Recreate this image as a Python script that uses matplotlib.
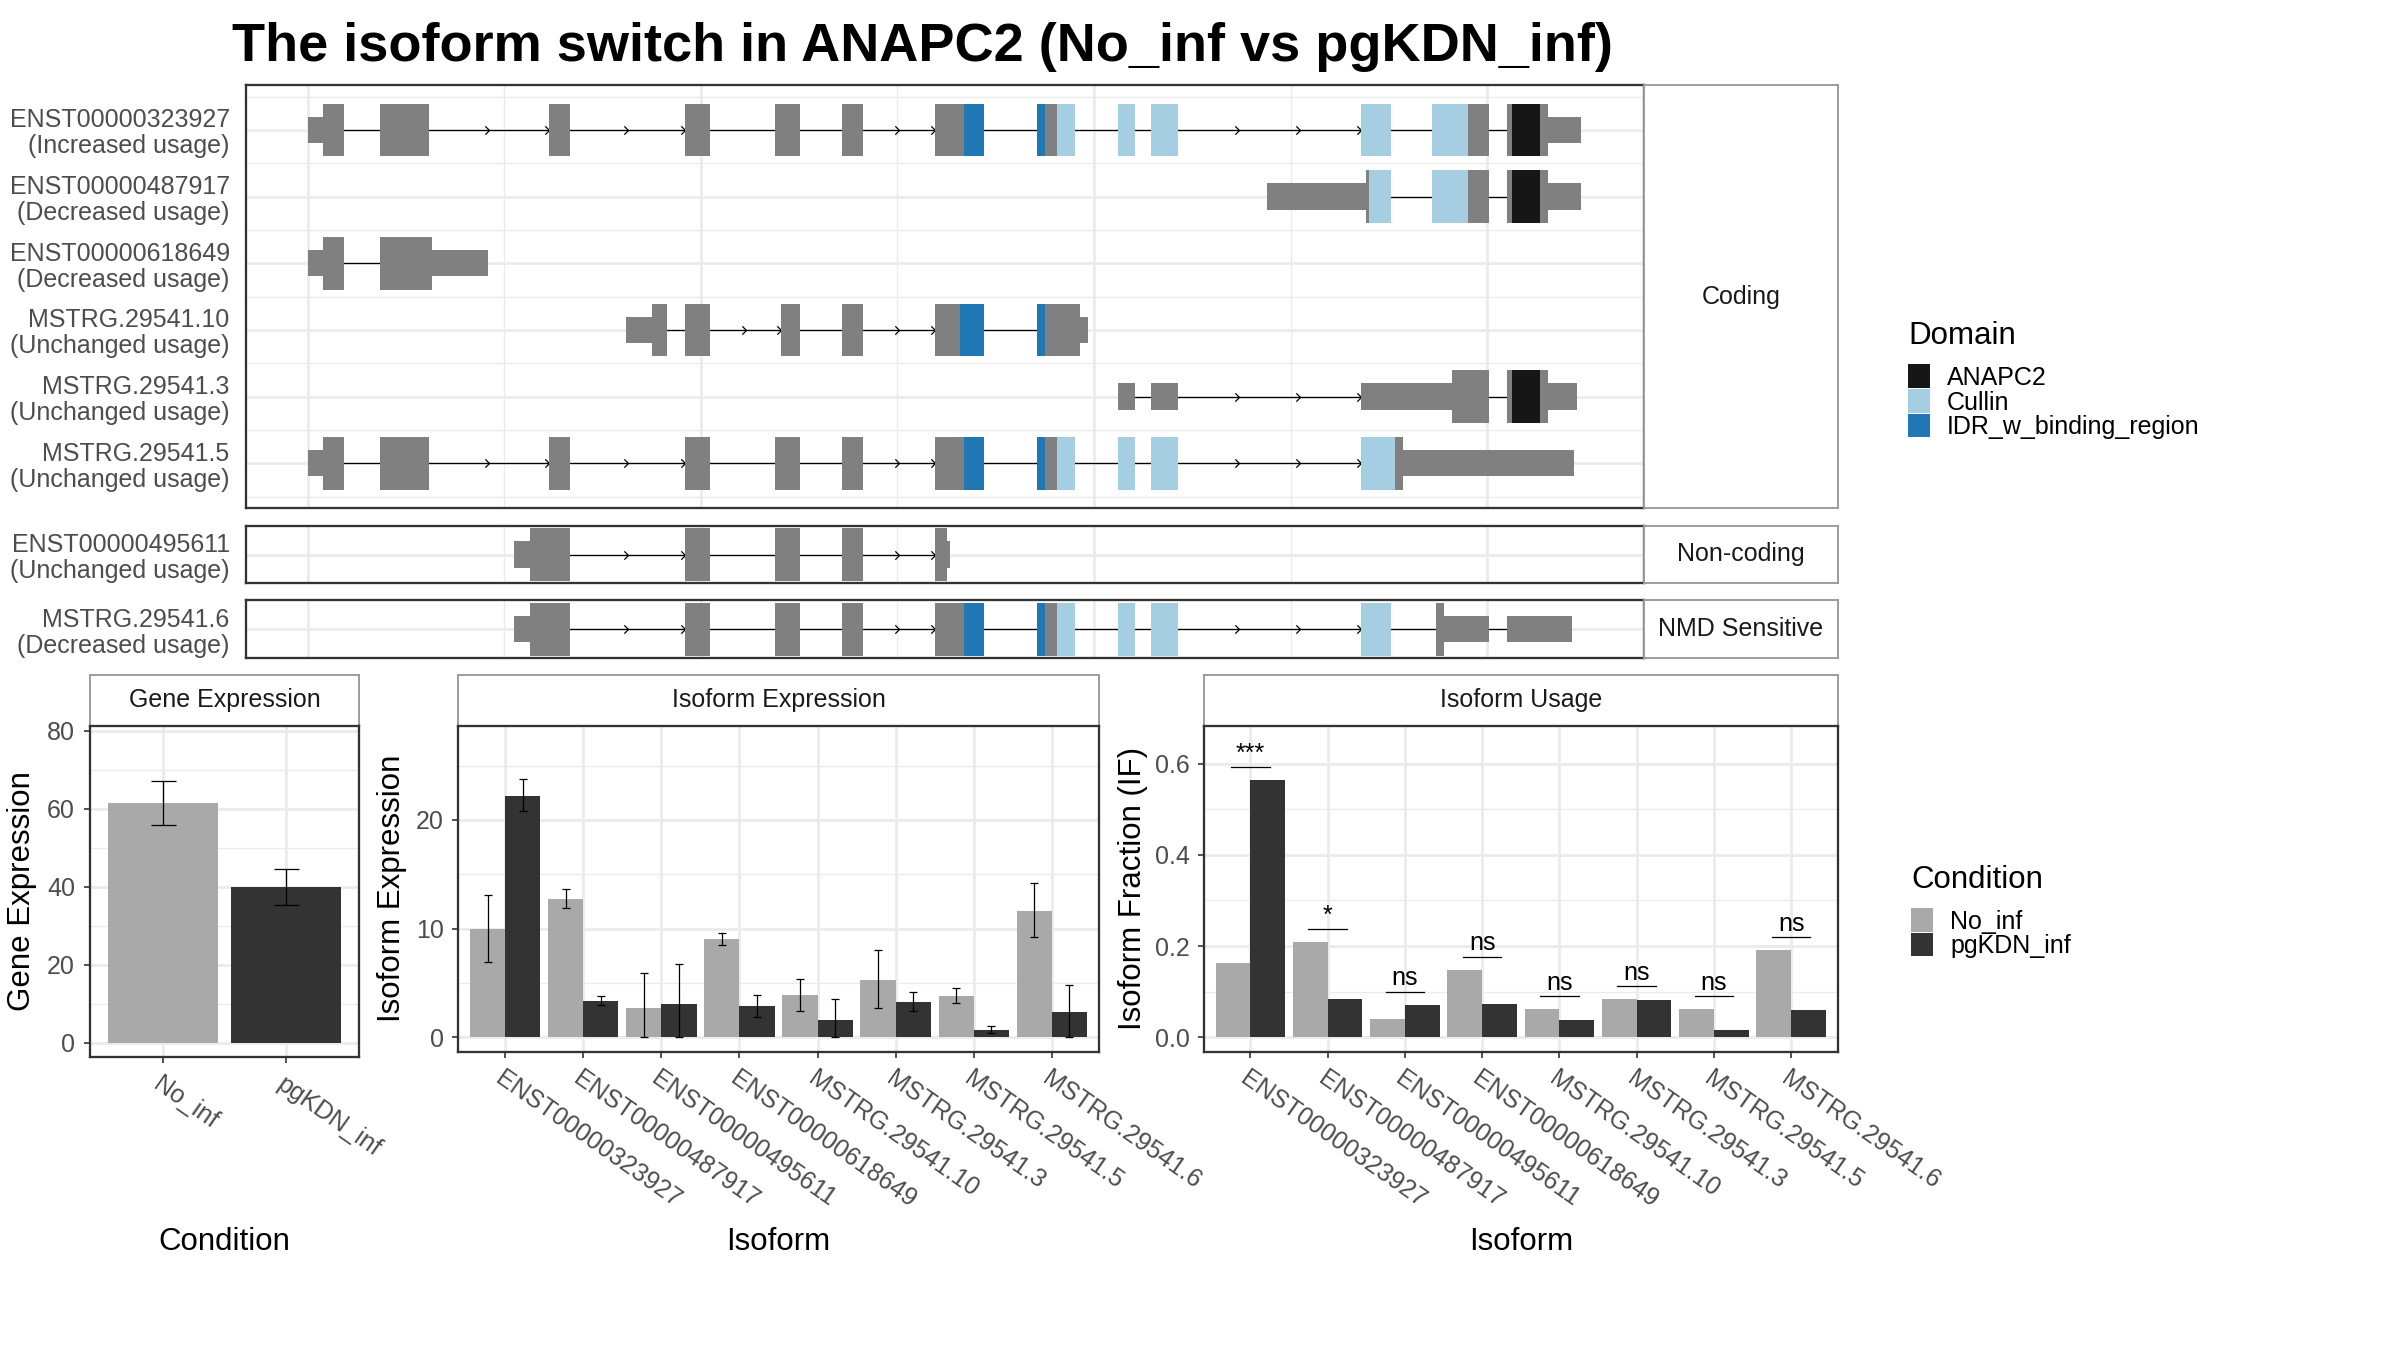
import math
import matplotlib
matplotlib.use('Agg')
import matplotlib.pyplot as plt
from matplotlib.patches import Rectangle
from matplotlib.path import Path

plt.rcParams['font.family'] = ['Liberation Sans', 'DejaVu Sans']

W, H = 2400, 1350

# ---------------- data ----------------
conditions = ['No_inf', 'pgKDN_inf']
cond_colors = ['#a9a9a9', '#333333']

gene_expr = [61.45, 39.96]
gene_lo = [55.8, 35.3]
gene_hi = [67.25, 44.5]

isoforms = ['ENST00000323927', 'ENST00000487917', 'ENST00000495611', 'ENST00000618649',
            'MSTRG.29541.10', 'MSTRG.29541.3', 'MSTRG.29541.5', 'MSTRG.29541.6']
iso_no = [10.0, 12.75, 2.7, 9.06, 3.9, 5.28, 3.81, 11.64]
iso_no_lo = [6.9, 11.92, 0.0, 8.51, 2.43, 2.67, 3.13, 9.22]
iso_no_hi = [13.1, 13.64, 5.9, 9.59, 5.35, 7.99, 4.52, 14.16]
iso_kd = [22.25, 3.35, 3.07, 2.89, 1.6, 3.26, 0.68, 2.33]
iso_kd_lo = [20.8, 2.95, 0.0, 1.9, 0.0, 2.43, 0.37, 0.0]
iso_kd_hi = [23.75, 3.81, 6.73, 3.93, 3.53, 4.21, 1.01, 4.79]

if_no = [0.163, 0.209, 0.040, 0.148, 0.062, 0.084, 0.062, 0.191]
if_kd = [0.564, 0.084, 0.071, 0.073, 0.038, 0.082, 0.016, 0.060]
if_sig = ['***', '*', 'ns', 'ns', 'ns', 'ns', 'ns', 'ns']

domain_names = ['ANAPC2', 'Cullin', 'IDR_w_binding_region']
domain_colors = ['#161616', '#a6cee3', '#1f78b4']

# transcript structures (bp from gene start)
tx_ids = ['ENST00000323927', 'ENST00000487917', 'ENST00000618649', 'MSTRG.29541.10',
          'MSTRG.29541.3', 'MSTRG.29541.5', 'ENST00000495611', 'MSTRG.29541.6']
tx_usage = ['Increased', 'Decreased', 'Decreased', 'Unchanged',
            'Unchanged', 'Unchanged', 'Unchanged', 'Decreased']
tx_class = ['Coding'] * 6 + ['Non-coding', 'NMD Sensitive']
tx_exons = [
    [(10, 468), (926, 1539), (3066, 3338), (4799, 5119), (5946, 6268), (6793, 7066), (7979, 8596),
     (9276, 9763), (10306, 10517), (10728, 11069), (13396, 13778), (14297, 15019), (15254, 16194)],
    [(12196, 13778), (14297, 15019), (15254, 16194)],
    [(10, 468), (926, 2288)],
    [(4049, 4565), (4799, 5119), (6025, 6268), (6793, 7066), (7979, 8596), (9276, 9926)],
    [(10306, 10517), (10728, 11069), (13396, 15019), (15254, 16145)],
    [(10, 468), (926, 1539), (3066, 3338), (4799, 5119), (5946, 6268), (6793, 7066), (7979, 8596),
     (9276, 9763), (10306, 10517), (10728, 11069), (13396, 16106)],
    [(2628, 3338), (4799, 5119), (5946, 6268), (6793, 7066), (7979, 8175)],
    [(2628, 3338), (4799, 5119), (5946, 6268), (6793, 7066), (7979, 8596), (9276, 9763),
     (10306, 10517), (10728, 11069), (13396, 13778), (14352, 15019), (15254, 16082)],
]
tx_cds = [(196, 15773), (13453, 15773), (196, 1587), (4379, 9820),
          (14556, 15773), (196, 13932), (2832, 8136), (2832, 14450)]
tx_domains = [
    [('IDR_w_binding_region', 8344, 9382), ('Cullin', 9528, 14760), ('ANAPC2', 15319, 15675)],
    [('Cullin', 13494, 14760), ('ANAPC2', 15319, 15675)],
    [],
    [('IDR_w_binding_region', 8296, 9382)],
    [('ANAPC2', 15319, 15675)],
    [('IDR_w_binding_region', 8344, 9382), ('Cullin', 9528, 13826)],
    [],
    [('IDR_w_binding_region', 8344, 9382), ('Cullin', 9528, 13778)],
]

# ---------------- helpers ----------------
fig = plt.figure(figsize=(16, 9), dpi=150)
fig.patch.set_facecolor('white')

GRID = '#ebebeb'
TXT = '#4d4d4d'
EXON = '#808080'


def rect(x0, y0, x1, y1):
    return [x0 / W, 1 - y1 / H, (x1 - x0) / W, (y1 - y0) / H]


def frame(ax, color='#333333', lw=1.1):
    for s in ax.spines.values():
        s.set_color(color)
        s.set_linewidth(lw)


def strip(x0, y0, x1, y1, label):
    ax = fig.add_axes(rect(x0, y0, x1, y1))
    ax.set_xticks([])
    ax.set_yticks([])
    frame(ax, '#999999', 0.9)
    ax.text(0.5, 0.5, label, ha='center', va='center', fontsize=12, color='#1a1a1a',
            transform=ax.transAxes)
    return ax


chevron = Path([(-1, 1), (0, 0), (-1, -1)], [Path.MOVETO, Path.LINETO, Path.LINETO])
dom_col = dict(zip(domain_names, domain_colors))


def draw_tx(ax, y, exons, cds, domains):
    tall, half = 0.395, 0.1975
    for (s0, e0), (s1, e1) in zip(exons[:-1], exons[1:]):
        ax.plot([e0, s1], [y, y], color='black', lw=0.6, zorder=2)
        L = s1 - e0
        if L > 860:
            n = math.ceil(L / 788)
            xs = [e0 + L * k / n for k in range(1, n + 1)]
            ax.plot(xs, [y] * n, ls='none', marker=chevron, ms=4, mfc='none', mec='black',
                    mew=0.6, zorder=3)
    for s, e in exons:
        cs, ce = max(s, cds[0]), min(e, cds[1])
        if ce <= cs:
            ax.add_patch(Rectangle((s, y - half), e - s, 2 * half, fc=EXON, lw=0, zorder=4))
            continue
        if s < cs:
            ax.add_patch(Rectangle((s, y - half), cs - s, 2 * half, fc=EXON, lw=0, zorder=4))
        if e > ce:
            ax.add_patch(Rectangle((ce, y - half), e - ce, 2 * half, fc=EXON, lw=0, zorder=4))
        ax.add_patch(Rectangle((cs, y - tall), ce - cs, 2 * tall, fc=EXON, lw=0, zorder=4))
        for name, ds, de in domains:
            a, b = max(cs, ds), min(ce, de)
            if b > a:
                ax.add_patch(Rectangle((a, y - tall), b - a, 2 * tall, fc=dom_col[name],
                                       lw=0, zorder=5))


def model_panel(y0, y1, idx, ylim):
    ax = fig.add_axes(rect(246.4, y0, 1644.3, y1))
    ax.set_xlim(-778, 16998)
    ax.set_ylim(*ylim)
    n = len(idx)
    ys = [n - k for k in range(n)]
    for k, y in zip(idx, ys):
        draw_tx(ax, y, tx_exons[k], tx_cds[k], tx_domains[k])
    ax.set_xticks([0, 5000, 10000, 15000])
    ax.set_xticks([2500, 7500, 12500], minor=True)
    ax.set_yticks(ys)
    ax.set_yticklabels(['%s\n(%s usage)' % (tx_ids[k], tx_usage[k]) for k in idx],
                       fontsize=12, color=TXT, linespacing=1.1)
    if n > 1:
        ax.set_yticks([y + 0.5 for y in range(0, n + 1)], minor=True)
    ax.grid(which='major', color=GRID, lw=1.3, zorder=0)
    ax.grid(which='minor', color=GRID, lw=0.65, zorder=0)
    ax.set_axisbelow(True)
    ax.tick_params(axis='both', which='both', length=0)
    ax.tick_params(axis='y', pad=8)
    ax.tick_params(axis='x', labelbottom=False)
    frame(ax)
    return ax


# ---------------- gene models ----------------
model_panel(85, 508.3, [0, 1, 2, 3, 4, 5], (0.325, 6.675))
strip(1644.3, 85, 1837.5, 508.3, 'Coding')
model_panel(525.7, 583.3, [6], (0.5675, 1.4325))
strip(1644.3, 525.7, 1837.5, 583.3, 'Non-coding')
model_panel(600, 658.3, [7], (0.5675, 1.4325))
strip(1644.3, 600, 1837.5, 658.3, 'NMD Sensitive')

fig.text(922 / W, 1 - 61 / H, 'The isoform switch in ANAPC2 (No_inf vs pgKDN_inf)',
         ha='center', va='baseline', fontsize=26, fontweight='bold')


# ---------------- bar panels ----------------
def bar_axes(x0, y0, x1, y1, title):
    strip(x0, 675, x1, 725.7, title)
    ax = fig.add_axes(rect(x0, y0, x1, y1))
    frame(ax)
    ax.set_axisbelow(True)
    ax.grid(which='major', color=GRID, lw=1.3)
    ax.grid(which='minor', axis='y', color=GRID, lw=0.65)
    ax.tick_params(which='major', length=3, color='#333333', labelsize=12, labelcolor=TXT, pad=4)
    ax.tick_params(which='minor', length=0)
    return ax


# Gene expression
ax = bar_axes(89.5, 725.7, 359.4, 1057.3, 'Gene Expression')
gx = [1, 2]
ax.bar(gx, gene_expr, width=0.9, color=cond_colors, zorder=2)
ax.errorbar(gx, gene_expr, yerr=[[v - l for v, l in zip(gene_expr, gene_lo)],
                                 [h - v for v, h in zip(gene_expr, gene_hi)]],
            fmt='none', ecolor='black', elinewidth=0.6, capsize=6, capthick=0.6, zorder=3)
ax.set_xlim(0.4, 2.6)
ax.set_ylim(-3.75, 81.36)
ax.set_yticks([0, 20, 40, 60, 80])
ax.set_yticks([10, 30, 50, 70], minor=True)
ax.set_xticks(gx)
ax.set_xticklabels(conditions, rotation=-35, ha='left', va='top', rotation_mode='anchor')

ix = list(range(1, len(isoforms) + 1))
xl = [x - 0.225 for x in ix]
xr = [x + 0.225 for x in ix]

# Isoform expression
ax = bar_axes(458.4, 725.7, 1098.6, 1051.7, 'Isoform Expression')
ax.bar(xl, iso_no, width=0.45, color=cond_colors[0], zorder=2)
ax.bar(xr, iso_kd, width=0.45, color=cond_colors[1], zorder=2)
ax.errorbar(xl, iso_no, yerr=[[v - l for v, l in zip(iso_no, iso_no_lo)],
                              [h - v for v, h in zip(iso_no, iso_no_hi)]],
            fmt='none', ecolor='black', elinewidth=0.6, capsize=2, capthick=0.6, zorder=3)
ax.errorbar(xr, iso_kd, yerr=[[v - l for v, l in zip(iso_kd, iso_kd_lo)],
                              [h - v for v, h in zip(iso_kd, iso_kd_hi)]],
            fmt='none', ecolor='black', elinewidth=0.6, capsize=2, capthick=0.6, zorder=3)
ax.set_xlim(0.4, 8.6)
ax.set_ylim(-1.33, 28.68)
ax.set_yticks([0, 10, 20])
ax.set_yticks([5, 15, 25], minor=True)
ax.set_xticks(ix)
ax.set_xticklabels(isoforms, rotation=-35, ha='left', va='top', rotation_mode='anchor')

# Isoform usage
ax = bar_axes(1204, 725.7, 1837.5, 1051.7, 'Isoform Usage')
ax.bar(xl, if_no, width=0.45, color=cond_colors[0], zorder=2)
ax.bar(xr, if_kd, width=0.45, color=cond_colors[1], zorder=2)
for x, a, b, s in zip(ix, if_no, if_kd, if_sig):
    yl = max(a, b) + 0.029
    ax.plot([x - 0.25, x + 0.25], [yl, yl], color='black', lw=0.6, zorder=3)
    ax.annotate(s, (x, yl), xytext=(0, 3), textcoords='offset points',
                ha='center', va='baseline', fontsize=12)
ax.set_xlim(0.4, 8.6)
ax.set_ylim(-0.0314, 0.683)
ax.set_yticks([0, 0.2, 0.4, 0.6])
ax.set_yticklabels(['0.0', '0.2', '0.4', '0.6'])
ax.set_yticks([0.1, 0.3, 0.5], minor=True)
ax.set_xticks(ix)
ax.set_xticklabels(isoforms, rotation=-35, ha='left', va='top', rotation_mode='anchor')

# axis titles
fig.text(22 / W, 1 - 891.5 / H, 'Gene Expression', rotation=90, ha='center', va='center', fontsize=15)
fig.text(392 / W, 1 - 888.7 / H, 'Isoform Expression', rotation=90, ha='center', va='center', fontsize=15)
fig.text(1133 / W, 1 - 888.7 / H, 'Isoform Fraction (IF)', rotation=90, ha='center', va='center', fontsize=15)
fig.text(224.5 / W, 1 - 1250 / H, 'Condition', ha='center', va='baseline', fontsize=15)
fig.text(778.5 / W, 1 - 1250 / H, 'Isoform', ha='center', va='baseline', fontsize=15)
fig.text(1520.8 / W, 1 - 1250 / H, 'Isoform', ha='center', va='baseline', fontsize=15)


# ---------------- legends ----------------
def legend(x, y_title, title, labels, colors):
    fig.text(x / W, 1 - y_title / H, title, ha='left', va='baseline', fontsize=15)
    top = y_title + 20
    for i, (lab, col) in enumerate(zip(labels, colors)):
        ky = top + i * 24.5
        fig.add_artist(Rectangle((x / W, 1 - (ky + 23.5) / H), 22 / W, 23.5 / H,
                                 transform=fig.transFigure, fc=col, lw=0))
        fig.text((x + 39) / W, 1 - (ky + 12 + 8.7) / H, lab, ha='left', va='baseline', fontsize=12)


legend(1908, 344.5, 'Domain', domain_names, domain_colors)
legend(1911, 888, 'Condition', conditions, cond_colors)

fig.savefig('out.png', dpi=150)
